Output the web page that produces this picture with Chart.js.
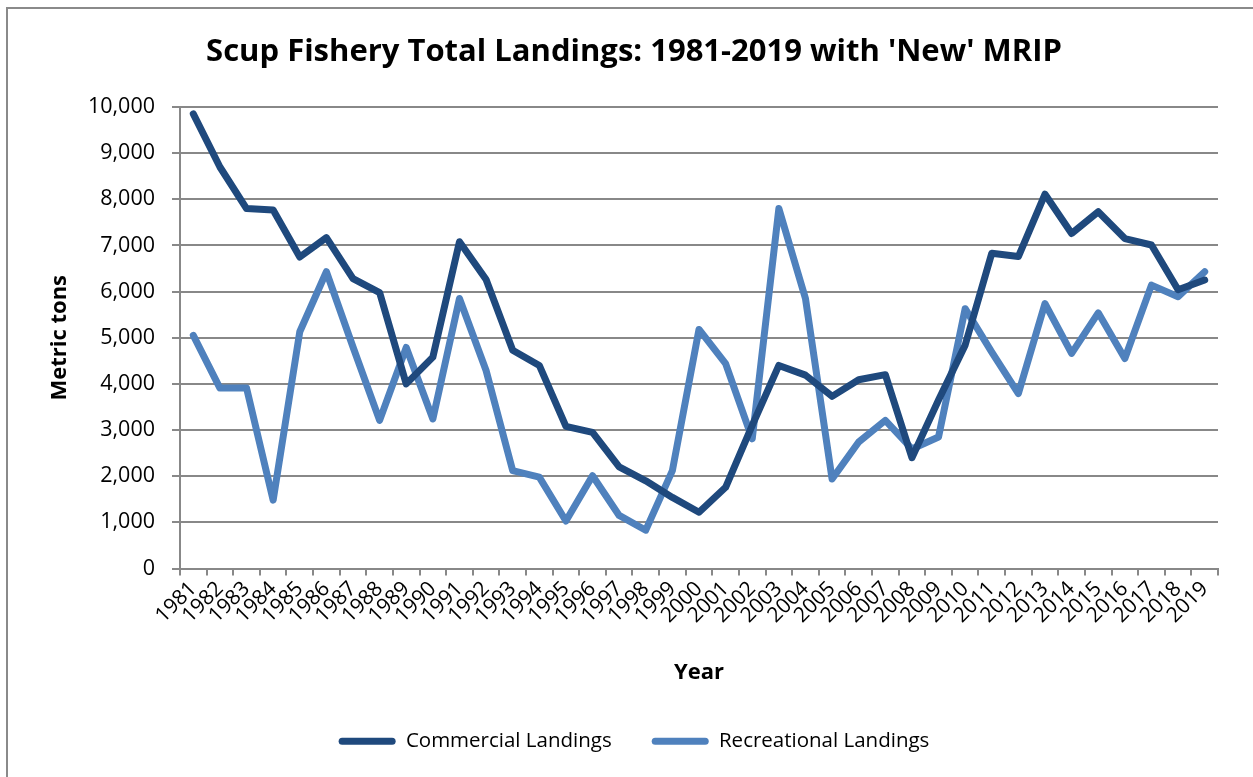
<!DOCTYPE html>
<html>
<head>
<meta charset="utf-8">
<script src="https://cdn.jsdelivr.net/npm/chart.js@4/dist/chart.umd.min.js"></script>
<style>
  html, body { margin: 0; padding: 0; background: #fff; overflow: hidden; }
  #wrap { position: relative; width: 1253px; height: 777px; }
  #frame { position: absolute; left: 6px; top: 7px; width: 2000px; height: 2000px;
           border-left: 2px solid #8a8a8a; border-top: 2px solid #8a8a8a; }
  canvas { position: absolute; left: 0; top: 0; }
</style>
</head>
<body>
<div id="wrap">
  <div id="frame"></div>
  <canvas id="scup" width="1253" height="777"></canvas>
</div>
<script>
var years = [];
for (var y = 1981; y <= 2019; y++) years.push(String(y));

// metric tons
var commercial = [
    9850, 8700, 7800, 7770, 6750, 7170, 6280, 5980, 4000, 4580,
    7080, 6260, 4730, 4400, 3080, 2950, 2200, 1900, 1540, 1220,
    1760, 3100, 4400, 4190, 3730, 4090, 4200, 2400, 3650, 4840,
    6830, 6760, 8110, 7260, 7730, 7150, 7010, 6040, 6250
];
var recreational = [
    5050, 3910, 3910, 1480, 5130, 6430, 4800, 3210, 4790, 3240,
    5850, 4290, 2120, 1980, 1030, 2010, 1150, 830, 2120, 5180,
    4440, 2810, 7800, 5850, 1940, 2740, 3210, 2590, 2850, 5630,
    4690, 3790, 5740, 4660, 5540, 4550, 6140, 5890, 6430
];
var seriesNames = ['Commercial Landings', 'Recreational Landings'];
var seriesColors = ['#1f497d', '#4f81bd'];

var fam = '"Open Sans", Lato, sans-serif';
var gridGray = '#888888';

function lineSet(i, values) {
    return {
        label: seriesNames[i],
        data: values,
        borderColor: seriesColors[i],
        backgroundColor: seriesColors[i],
        borderWidth: 7,
        pointRadius: 0,
        tension: 0,
        borderJoinStyle: 'round',
        borderCapStyle: 'round'
    };
}

var ctx = document.getElementById('scup');
var chart = new Chart(ctx, {
    type: 'line',
    data: {
        labels: years,
        datasets: [lineSet(0, commercial), lineSet(1, recreational)]
    },
    options: {
        responsive: false,
        animation: false,
        layout: { padding: { left: 50, right: 35, top: 0, bottom: 15.5 } },
        plugins: {
            tooltip: { enabled: false },
            title: {
                display: true,
                text: "Scup Fishery Total Landings: 1981-2019 with 'New' MRIP",
                color: '#000',
                font: { family: fam, size: 31, weight: 'bold' },
                padding: { top: 33.4, bottom: 36.4 }
            },
            legend: {
                position: 'bottom',
                labels: {
                    color: '#000',
                    font: { family: fam, size: 20.5 },
                    boxWidth: 57,
                    boxHeight: 7,
                    padding: 40,
                    useBorderRadius: true,
                    borderRadius: 3.5,
                    generateLabels: function(c) {
                        return c.data.datasets.map(function(ds, i) {
                            return {
                                text: ds.label,
                                fillStyle: ds.borderColor,
                                strokeStyle: ds.borderColor,
                                lineWidth: 0,
                                borderRadius: 3.5,
                                fontColor: '#000',
                                datasetIndex: i
                            };
                        });
                    }
                }
            }
        },
        scales: {
            x: {
                type: 'category',
                offset: true,
                afterFit: function(s) { s.height = 122.5; },
                grid: {
                    offset: true,
                    drawOnChartArea: false,
                    drawTicks: true,
                    tickLength: 7,
                    color: gridGray,
                    lineWidth: 2
                },
                border: { display: true, color: gridGray, width: 2 },
                ticks: {
                    color: '#000',
                    font: { family: fam, size: 21 },
                    autoSkip: false,
                    minRotation: 45,
                    maxRotation: 45,
                    padding: 1
                },
                title: {
                    display: true,
                    text: 'Year',
                    color: '#000',
                    font: { family: fam, size: 22, weight: 'bold' },
                    padding: { top: 0, bottom: 5.5 }
                }
            },
            y: {
                min: 0,
                max: 10000,
                afterFit: function(s) { s.width = 130; },
                grid: {
                    color: gridGray,
                    lineWidth: 2,
                    tickLength: 8
                },
                border: { display: true, color: gridGray, width: 2 },
                ticks: {
                    stepSize: 1000,
                    color: '#000',
                    font: { family: fam, size: 21.5 },
                    padding: 17,
                    callback: function(v) { return v.toLocaleString('en-US'); }
                },
                title: {
                    display: true,
                    text: 'Metric tons',
                    color: '#000',
                    font: { family: fam, size: 22, weight: 'bold' },
                    padding: { top: -3, bottom: 0 }
                }
            }
        }
    }
});
</script>
</body>
</html>
